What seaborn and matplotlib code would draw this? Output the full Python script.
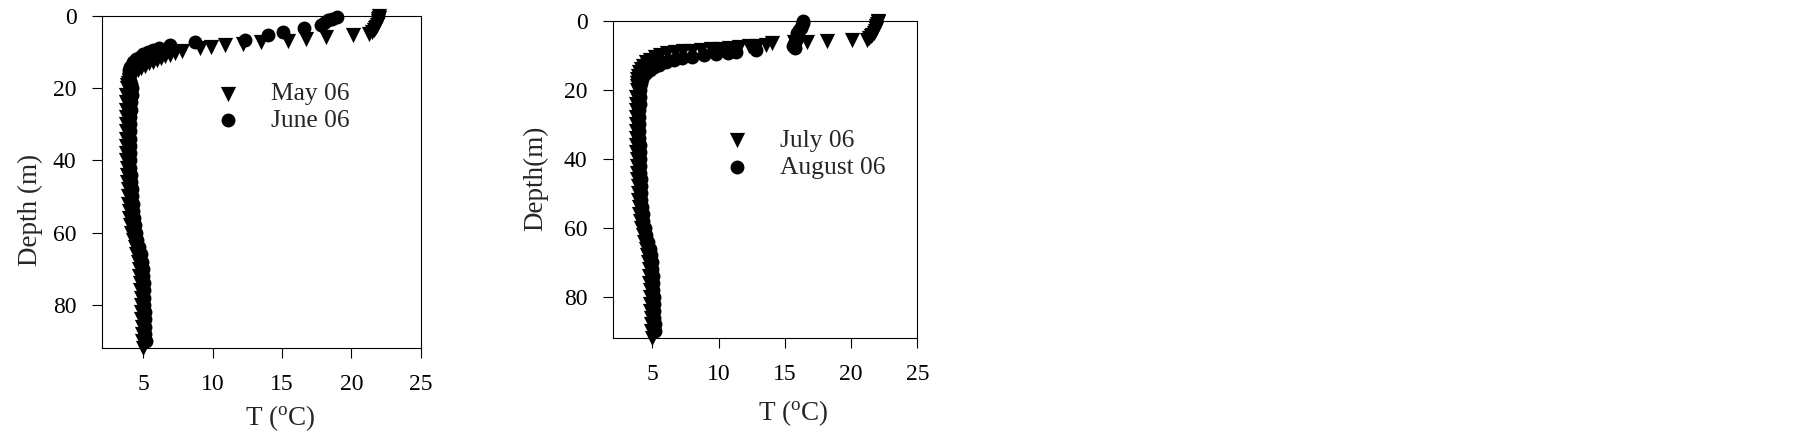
import numpy as np
import pandas as pd
import matplotlib
matplotlib.use("Agg")
import matplotlib.pyplot as plt
import seaborn as sns

# Panel 1: May 06 (triangles) and June 06 (circles)
may_depth = [0, 0.5, 1, 1.5, 2, 2.5, 3, 3.5, 4, 4.5, 5, 5.4, 5.9, 6.4, 7.0, 7.4, 7.8, 8.2, 8.7, 9.0,
             9.9, 10.3, 10.8, 11.2, 11.7, 12.2, 12.7, 13.2, 13.8, 14.4, 15, 15.6, 16.2, 17, 17.8, 18.6, 19.3, 20,
             22, 24, 26, 28, 30, 32, 34, 36, 38, 40, 42, 44, 46, 48, 50, 52, 54, 56, 58, 60,
             62, 64, 66, 68, 70, 72, 74, 76, 78, 80, 82, 84, 86, 88, 90, 92]
may_temp = [22.0, 22.0, 21.95, 21.9, 21.9, 21.85, 21.8, 21.7, 21.6, 21.5, 21.3, 20.1, 18.2, 16.7, 15.45, 13.5, 12.2, 10.9, 9.9, 9.1,
            7.8, 7.3, 6.9, 6.6, 6.3, 6.0, 5.7, 5.4, 5.1, 4.85, 4.6, 4.4, 4.25, 4.1, 3.98, 3.9, 3.85, 3.82,
            3.78, 3.75, 3.73, 3.73, 3.73, 3.74, 3.75, 3.76, 3.77, 3.78, 3.79, 3.8, 3.83, 3.87, 3.9, 3.93, 3.96, 4.0, 4.05, 4.12,
            4.25, 4.38, 4.5, 4.6, 4.68, 4.72, 4.76, 4.79, 4.82, 4.85, 4.86, 4.87, 4.88, 4.9, 4.92, 5.0]

june_depth = [0.3, 0.8, 1.3, 1.9, 2.5, 3.4, 4.4, 5.3, 6.6, 7.3, 8.2, 9.0, 9.5, 10.0, 10.7, 11.3, 12.0, 12.7, 13.5, 14.3,
              15, 16, 17, 18, 19, 20,
              22, 24, 26, 28, 30, 32, 34, 36, 38, 40, 42, 44, 46, 48, 50, 52, 54, 56, 58, 60,
              62, 64, 66, 68, 70, 72, 74, 76, 78, 80, 82, 84, 86, 88, 90]
june_temp = [19.0, 18.6, 18.3, 18.0, 17.8, 16.6, 15.1, 14.0, 12.3, 8.7, 6.9, 6.1, 5.7, 5.36, 5.0, 4.76, 4.5, 4.28, 4.15, 4.05,
             3.97, 3.95, 4.0, 4.05, 4.1, 4.15,
             4.15, 4.1, 4.08, 4.05, 4.04, 4.03, 4.03, 4.03, 4.04, 4.05, 4.07, 4.09, 4.12, 4.16, 4.2, 4.24, 4.28, 4.33, 4.38, 4.45,
             4.58, 4.7, 4.8, 4.88, 4.95, 4.99, 5.02, 5.04, 5.06, 5.08, 5.1, 5.11, 5.13, 5.15, 5.17]

# Panel 2: July 06 (triangles) and August 06 (circles)
july_depth = [0, 0.5, 1, 1.5, 2, 2.5, 3, 3.5, 4, 4.5, 5, 5.5, 5.7, 5.9, 6.2, 6.3, 6.5, 6.9, 7.2, 7.4,
              7.7, 7.9, 8.1, 8.3, 8.5, 8.7, 8.9, 9.1, 9.5, 10.0, 10.6, 11.3, 12.1, 13, 14, 15, 16, 17, 18, 19, 20,
              22, 24, 26, 28, 30, 32, 34, 36, 38, 40, 42, 44, 46, 48, 50, 52, 54, 56, 58, 60,
              62, 64, 66, 68, 70, 72, 74, 76, 78, 80, 82, 84, 86, 88, 90, 92]
july_temp = [22.0, 22.0, 21.95, 21.9, 21.9, 21.85, 21.8, 21.7, 21.6, 21.5, 21.35, 21.2, 20.1, 18.2, 16.7, 15.7, 14.0, 13.6, 12.9, 12.3,
             11.5, 10.8, 10.1, 9.4, 8.7, 8.0, 7.3, 6.7, 6.1, 5.6, 5.2, 4.85, 4.55, 4.3, 4.1, 4.0, 3.9, 3.85, 3.82, 3.8, 3.8,
             3.78, 3.76, 3.75, 3.75, 3.75, 3.76, 3.77, 3.78, 3.79, 3.8, 3.82, 3.84, 3.86, 3.88, 3.9, 3.92, 3.95, 4.0, 4.07, 4.15,
             4.27, 4.4, 4.52, 4.6, 4.67, 4.71, 4.74, 4.77, 4.79, 4.81, 4.83, 4.85, 4.86, 4.87, 4.88, 4.93]

aug_depth = [0, 0.6, 1.3, 2.0, 2.8, 3.6, 4.4, 5.0, 5.6, 6.2, 6.8, 7.4, 8.0, 8.6, 9.0, 9.3, 9.6, 9.9, 10.4, 10.9,
             11.4, 12.0, 12.7, 13.4, 14.2, 15.1, 16.1, 17, 18, 19, 20,
             22, 24, 26, 28, 30, 32, 34, 36, 38, 40, 42, 44, 46, 48, 50, 52, 54, 56, 58, 60,
             62, 64, 66, 68, 70, 72, 74, 76, 78, 80, 82, 84, 86, 88, 90]
aug_temp = [16.4, 16.35, 16.3, 16.2, 16.05, 15.95, 15.9, 15.9, 15.85, 15.8, 15.7, 15.65, 15.8, 12.8, 11.3, 10.7, 9.8, 8.9, 8.0, 7.2,
            6.6, 6.0, 5.5, 5.1, 4.8, 4.5, 4.3, 4.18, 4.1, 4.07, 4.05,
            4.04, 4.03, 4.02, 4.02, 4.02, 4.02, 4.02, 4.03, 4.04, 4.05, 4.07, 4.09, 4.11, 4.13, 4.15, 4.17, 4.2, 4.25, 4.32, 4.42,
            4.55, 4.68, 4.8, 4.88, 4.95, 5.0, 5.03, 5.06, 5.08, 5.1, 5.12, 5.14, 5.15, 5.16, 5.17]

x_ticks = [5, 10, 15, 20, 25]
y_ticks = [0, 20, 40, 60, 80]

sns.set_style("ticks")
plt.rcParams["font.family"] = ["Liberation Serif", "DejaVu Serif"]
plt.rcParams["mathtext.fontset"] = "custom"
plt.rcParams["mathtext.rm"] = "Liberation Serif"

fig = plt.figure(figsize=(18.05, 4.37), dpi=100)
ax1 = fig.add_axes([0.05634, 0.20297, 0.17673, 0.7611])
ax2 = fig.add_axes([0.33945, 0.22586, 0.16875, 0.72677])


def profile(ax, d1, t1, lab1, d2, t2, lab2, ylab, xlab_pos, ylab_pos, leg_pos):
    sns.scatterplot(x=t1, y=d1, marker="v", color="black", s=120, linewidth=0,
                    label=lab1, ax=ax, clip_on=False, zorder=3)
    sns.scatterplot(x=t2, y=d2, marker="o", color="black", s=100, linewidth=0,
                    label=lab2, ax=ax, clip_on=False, zorder=3)
    ax.set_xlim(2, 25)
    ax.set_ylim(92, 0)
    ax.set_xticks(x_ticks)
    ax.set_yticks(y_ticks)
    ax.tick_params(direction="out", length=7.2, width=0.8, pad=11, labelsize=17, colors="black")
    for sp in ax.spines.values():
        sp.set_visible(True)
        sp.set_linewidth(0.8)
        sp.set_color("black")
    ax.set_xlabel(r"T ($\mathregular{^{o}}$C)", fontsize=19.5)
    ax.set_ylabel(ylab, fontsize=19.5)
    ax.xaxis.set_label_coords(*xlab_pos)
    ax.yaxis.set_label_coords(*ylab_pos)
    ax.legend(loc="upper left", bbox_to_anchor=leg_pos, frameon=False, fontsize=18.4,
              handlelength=1.0, handletextpad=1.2, borderpad=0, borderaxespad=0,
              labelspacing=0.15, markerscale=1.0)


profile(ax1, may_depth, may_temp, "May 06", june_depth, june_temp, "June 06",
        "Depth (m)", (0.559, -0.165), (-0.184, 0.416), (0.355, 0.799))
profile(ax2, july_depth, july_temp, "July 06", aug_depth, aug_temp, "August 06",
        "Depth(m)", (0.593, -0.189), (-0.211, 0.504), (0.365, 0.659))

fig.savefig("out.png", dpi=100, facecolor="white")
